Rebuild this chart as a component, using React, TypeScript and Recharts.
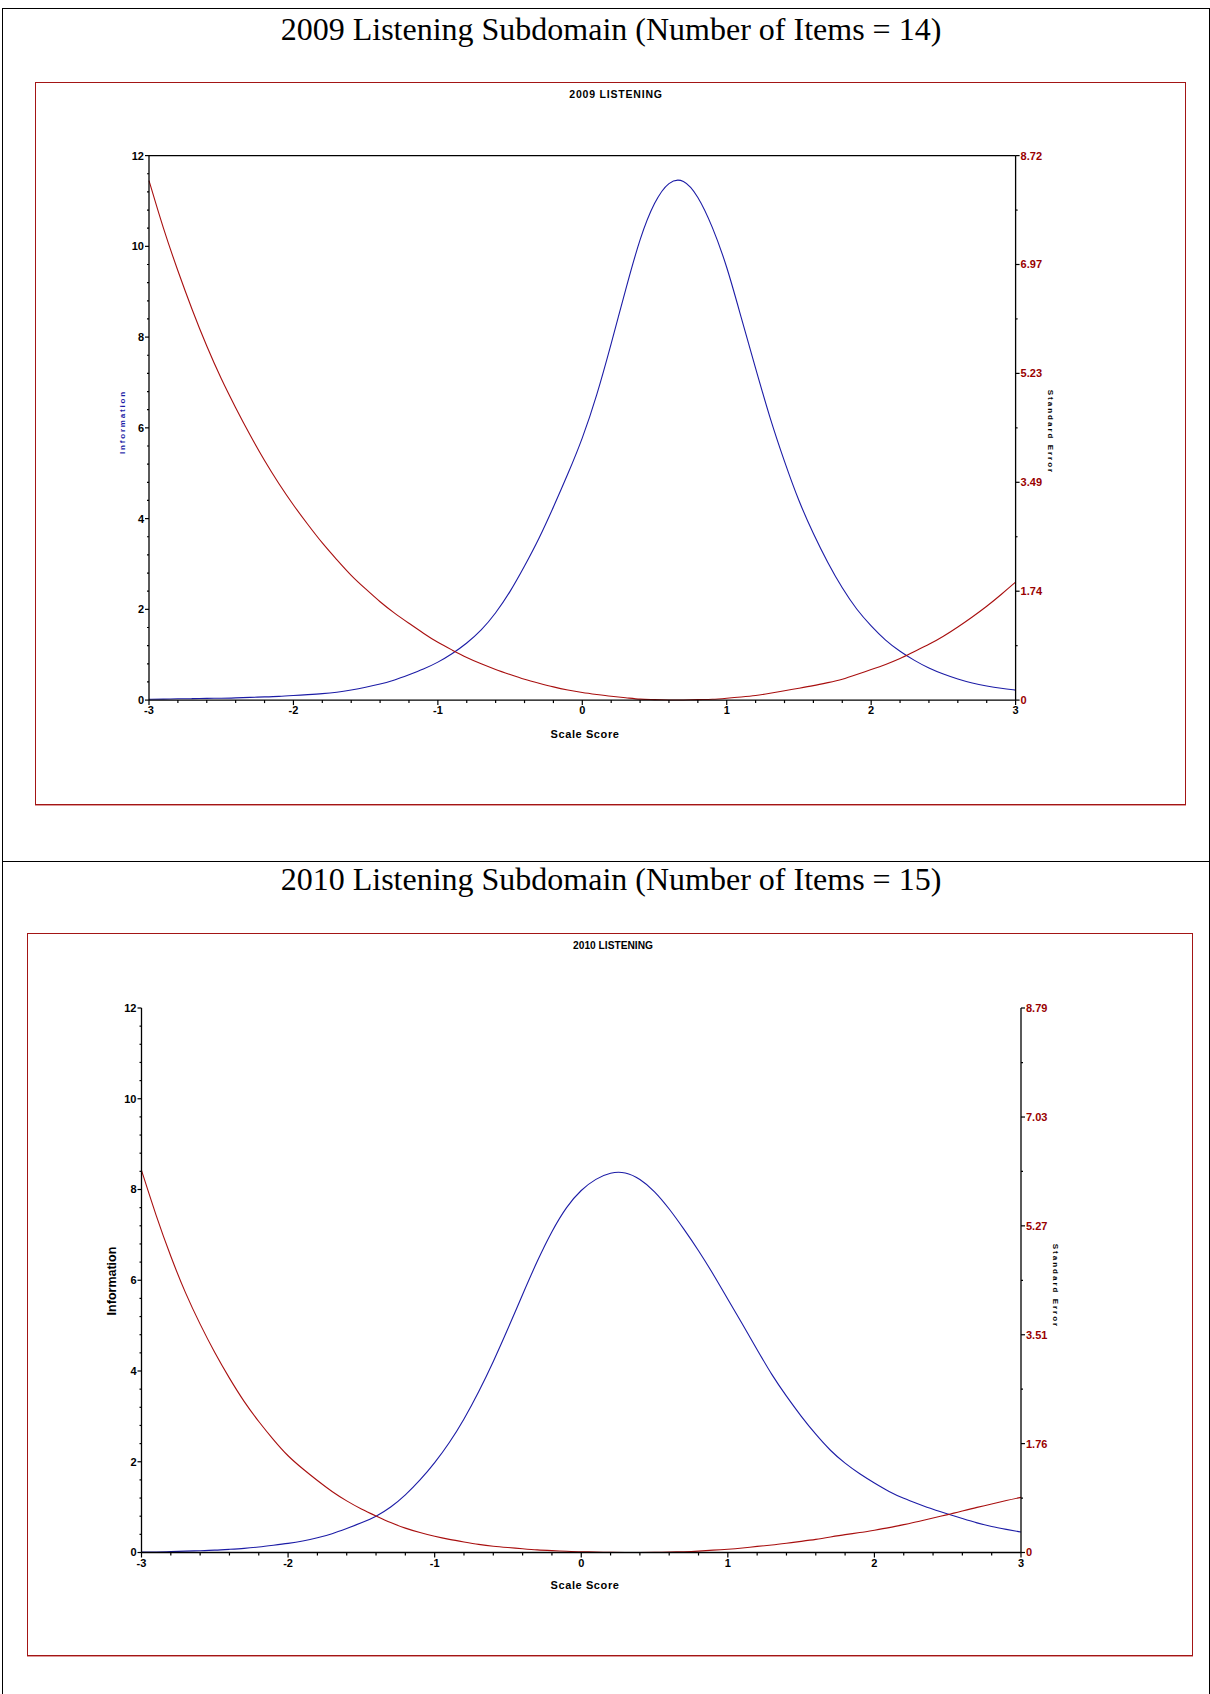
import React from "react";
import { LineChart, Line, XAxis, YAxis, ReferenceLine } from "recharts";

// scale score grid (theta)
const scores = [
  -3, -2.9, -2.8, -2.7, -2.6, -2.5, -2.4, -2.3, -2.2, -2.1,
  -2, -1.9, -1.8, -1.7, -1.6, -1.5, -1.4, -1.3, -1.2, -1.1,
  -1, -0.9, -0.8, -0.7, -0.6, -0.5, -0.4, -0.3, -0.2, -0.1,
  0, 0.1, 0.2, 0.3, 0.4, 0.5, 0.6, 0.7, 0.8, 0.9,
  1, 1.1, 1.2, 1.3, 1.4, 1.5, 1.6, 1.7, 1.8, 1.9,
  2, 2.1, 2.2, 2.3, 2.4, 2.5, 2.6, 2.7, 2.8, 2.9, 3,
];

const info2009 = [
  0.02, 0.02, 0.03, 0.03, 0.04, 0.04, 0.05, 0.06, 0.07, 0.08,
  0.1, 0.12, 0.14, 0.17, 0.22, 0.28, 0.35, 0.44, 0.56, 0.68,
  0.83, 1.02, 1.25, 1.53, 1.91, 2.38, 2.95, 3.55, 4.25, 4.98,
  5.75, 6.7, 7.85, 9.05, 10.2, 11.0, 11.45, 11.5, 11.13, 10.45,
  9.58, 8.43, 7.31, 6.2, 5.25, 4.37, 3.66, 3.02, 2.46, 1.99,
  1.63, 1.31, 1.07, 0.87, 0.7, 0.57, 0.46, 0.37, 0.31, 0.26, 0.22,
];

const se2009 = [
  8.32, 7.54, 6.87, 6.24, 5.66, 5.14, 4.68, 4.24, 3.83, 3.46,
  3.12, 2.81, 2.51, 2.25, 1.99, 1.78, 1.57, 1.39, 1.23, 1.07,
  0.92, 0.8, 0.68, 0.58, 0.49, 0.41, 0.33, 0.27, 0.21, 0.16,
  0.12, 0.09, 0.06, 0.04, 0.01, 0.01, 0, 0, 0.01, 0.01,
  0.03, 0.05, 0.07, 0.11, 0.15, 0.19, 0.23, 0.28, 0.33, 0.41,
  0.49, 0.57, 0.66, 0.78, 0.89, 1.02, 1.17, 1.33, 1.5, 1.69, 1.89,
];

const info2010 = [
  0.01, 0.01, 0.02, 0.03, 0.04, 0.05, 0.07, 0.09, 0.12, 0.16,
  0.2, 0.25, 0.32, 0.41, 0.53, 0.65, 0.79, 0.99, 1.26, 1.59,
  1.97, 2.41, 2.93, 3.53, 4.2, 4.93, 5.69, 6.43, 7.09, 7.63,
  8.0, 8.24, 8.38, 8.39, 8.24, 7.97, 7.58, 7.13, 6.66, 6.14,
  5.58, 5.03, 4.47, 3.91, 3.44, 3.0, 2.6, 2.24, 1.96, 1.73,
  1.53, 1.34, 1.19, 1.07, 0.95, 0.85, 0.75, 0.65, 0.57, 0.51, 0.45,
];

const se2010 = [
  6.17, 5.43, 4.77, 4.18, 3.68, 3.22, 2.81, 2.43, 2.11, 1.82,
  1.55, 1.35, 1.16, 0.98, 0.83, 0.7, 0.59, 0.48, 0.39, 0.32,
  0.26, 0.21, 0.17, 0.13, 0.1, 0.08, 0.06, 0.04, 0.03, 0.02,
  0.01, 0.01, 0, 0, 0, 0, 0.01, 0.01, 0.02, 0.04,
  0.05, 0.07, 0.1, 0.12, 0.15, 0.18, 0.21, 0.25, 0.29, 0.32,
  0.36, 0.4, 0.45, 0.5, 0.56, 0.61, 0.67, 0.73, 0.78, 0.84, 0.89,
];

const xTicks = [
  -3, -2.8, -2.6, -2.4, -2.2, -2, -1.8, -1.6, -1.4, -1.2, -1, -0.8, -0.6, -0.4, -0.2,
  0, 0.2, 0.4, 0.6, 0.8, 1, 1.2, 1.4, 1.6, 1.8, 2, 2.2, 2.4, 2.6, 2.8, 3,
];
const infoTicks = [
  0, 0.4, 0.8, 1.2, 1.6, 2, 2.4, 2.8, 3.2, 3.6, 4, 4.4, 4.8, 5.2, 5.6, 6,
  6.4, 6.8, 7.2, 7.6, 8, 8.4, 8.8, 9.2, 9.6, 10, 10.4, 10.8, 11.2, 11.6, 12,
];
const seTicks2009 = [0, 0.872, 1.744, 2.616, 3.488, 4.36, 5.232, 6.104, 6.976, 7.848, 8.72];
const seLabels2009 = ["0", "1.74", "3.49", "5.23", "6.97", "8.72"];
const seTicks2010 = [0, 0.879, 1.758, 2.637, 3.515, 4.394, 5.273, 6.152, 7.03, 7.909, 8.79];
const seLabels2010 = ["0", "1.76", "3.51", "5.27", "7.03", "8.79"];

const BLUE = "#1c1ca6";
const RED = "#a80f0f";
const DARKRED = "#990000";
const SANS = "'Liberation Sans', Arial, sans-serif";

const rows = (info: number[], se: number[]) =>
  scores.map((x, i) => ({ x, info: info[i], se: se[i] }));

function XTick(props: any) {
  const { x, y, payload } = props;
  const v = payload.value;
  const major = Math.abs(v - Math.round(v)) < 1e-6;
  return (
    <g>
      <line x1={x} y1={y} x2={x} y2={y + (major ? 5 : 3)} stroke="#000" strokeWidth={1.2} />
      {major && (
        <text x={x} y={y + 14} textAnchor="middle" fontSize={11} fontWeight="bold" fontFamily={SANS} fill="#000">
          {String(Math.round(v))}
        </text>
      )}
    </g>
  );
}

function InfoTick(props: any) {
  const { x, y, payload } = props;
  const v = payload.value;
  const major = Math.abs(v - Math.round(v)) < 1e-6 && Math.round(v) % 2 === 0;
  return (
    <g>
      <line x1={major ? x - 4 : x - 2} y1={y} x2={x} y2={y} stroke="#000" strokeWidth={1.2} />
      {major && (
        <text x={x - 5} y={y} dy="0.36em" textAnchor="end" fontSize={11} fontWeight="bold" fontFamily={SANS} fill="#000">
          {String(Math.round(v))}
        </text>
      )}
    </g>
  );
}

function makeSeTick(labels: string[]) {
  return function SeTick(props: any) {
    const { x, y, index } = props;
    const major = index % 2 === 0;
    return (
      <g>
        <line x1={x} y1={y} x2={x + (major ? 4 : 2)} y2={y} stroke="#000" strokeWidth={1.2} />
        {major && (
          <text x={x + 5} y={y} dy="0.36em" textAnchor="start" fontSize={11} fontWeight="bold" fontFamily={SANS} fill={DARKRED}>
            {labels[index / 2]}
          </text>
        )}
      </g>
    );
  };
}

type PanelProps = {
  heading: string;
  headingY: number;
  chartTitle: string;
  titleX: number;
  titleSize: number;
  titleSpacing: number;
  frame: { left: number; top: number; width: number; height: number };
  margin: { top: number; right: number; bottom: number; left: number };
  info: number[];
  se: number[];
  seMax: number;
  seTicks: number[];
  seLabels: string[];
  topLine: boolean;
  infoLabel: { x: number; y: number; size: number; color: string; bold: boolean; spacing: number };
  seLabel: { x: number; y: number };
  scaleLabel: { x: number; y: number };
};

function Panel(p: PanelProps) {
  const SeTick = makeSeTick(p.seLabels);
  return (
    <>
      <div
        style={{
          position: "absolute",
          left: 6,
          width: 1210,
          top: p.headingY - 18,
          textAlign: "center",
          fontFamily: "'Liberation Serif', 'Times New Roman', serif",
          fontSize: 32,
          lineHeight: "36px",
          color: "#000",
        }}
      >
        {p.heading}
      </div>
      <div
        style={{
          position: "absolute",
          left: p.frame.left,
          top: p.frame.top,
          width: p.frame.width,
          height: p.frame.height,
          border: "1px solid #a31515",
          boxShadow: "0 1px 0 #d99",
          boxSizing: "border-box",
        }}
      />
      <div
        style={{
          position: "absolute",
          left: p.titleX,
          top: p.frame.top + 12,
          transform: "translate(-50%, -50%)",
          fontFamily: SANS,
          fontWeight: "bold",
          fontSize: p.titleSize,
          letterSpacing: p.titleSpacing,
          whiteSpace: "nowrap",
        }}
      >
        {p.chartTitle}
      </div>
      <div style={{ position: "absolute", left: 0, top: p.frame.top }}>
        <LineChart width={1210} height={p.frame.height} data={rows(p.info, p.se)} margin={p.margin}>
          <XAxis
            dataKey="x"
            type="number"
            domain={[-3, 3]}
            ticks={xTicks}
            interval={0}
            height={30}
            tickSize={0}
            tickMargin={0}
            tickLine={false}
            tick={<XTick />}
            axisLine={{ stroke: "#000", strokeWidth: 1.3 }}
          />
          <YAxis
            yAxisId="info"
            orientation="left"
            type="number"
            domain={[0, 12]}
            ticks={infoTicks}
            interval={0}
            width={60}
            tickSize={0}
            tickMargin={0}
            tickLine={false}
            tick={<InfoTick />}
            axisLine={{ stroke: "#000", strokeWidth: 1.3 }}
          />
          <YAxis
            yAxisId="se"
            orientation="right"
            type="number"
            domain={[0, p.seMax]}
            ticks={p.seTicks}
            interval={0}
            width={60}
            tickSize={0}
            tickMargin={0}
            tickLine={false}
            tick={<SeTick />}
            axisLine={{ stroke: "#000", strokeWidth: 1.3 }}
          />
          {p.topLine && <ReferenceLine yAxisId="info" y={12} stroke="#000" strokeWidth={1.3} />}
          <Line
            yAxisId="info"
            dataKey="info"
            type="basis"
            stroke={BLUE}
            strokeWidth={1.1}
            dot={false}
            isAnimationActive={false}
          />
          <Line
            yAxisId="se"
            dataKey="se"
            type="basis"
            stroke={RED}
            strokeWidth={1.1}
            dot={false}
            isAnimationActive={false}
          />
        </LineChart>
      </div>
      <div
        style={{
          position: "absolute",
          left: p.infoLabel.x,
          top: p.infoLabel.y,
          transform: "translate(-50%, -50%) rotate(-90deg)",
          fontFamily: SANS,
          fontSize: p.infoLabel.size,
          fontWeight: p.infoLabel.bold ? "bold" : "normal",
          letterSpacing: p.infoLabel.spacing,
          color: p.infoLabel.color,
          whiteSpace: "nowrap",
        }}
      >
        Information
      </div>
      <div
        style={{
          position: "absolute",
          left: p.seLabel.x,
          top: p.seLabel.y,
          transform: "translate(-50%, -50%) rotate(90deg)",
          fontFamily: SANS,
          fontSize: 8,
          fontWeight: "bold",
          letterSpacing: 2,
          color: "#000",
          whiteSpace: "nowrap",
        }}
      >
        Standard Error
      </div>
      <div
        style={{
          position: "absolute",
          left: p.scaleLabel.x,
          top: p.scaleLabel.y,
          transform: "translate(-50%, -50%)",
          fontFamily: SANS,
          fontSize: 11,
          fontWeight: "bold",
          letterSpacing: 0.6,
          whiteSpace: "nowrap",
        }}
      >
        Scale Score
      </div>
    </>
  );
}

export default function App() {
  return (
    <div
      style={{
        position: "absolute",
        left: 0,
        top: 0,
        width: 1210,
        height: 1694,
        overflow: "hidden",
        background: "#fff",
      }}
    >
      <div
        style={{
          position: "absolute",
          left: 2,
          top: 8,
          width: 1206,
          height: 1720,
          borderLeft: "1px solid #000",
          borderTop: "1px solid #000",
          borderRight: "1px solid #000",
        }}
      />
      <div style={{ position: "absolute", left: 2, top: 861, width: 1208, borderTop: "1px solid #000" }} />

      <Panel
        heading="2009 Listening Subdomain (Number of Items = 14)"
        headingY={29}
        chartTitle="2009 LISTENING"
        titleX={616}
        titleSize={10.5}
        titleSpacing={0.8}
        frame={{ left: 35, top: 82, width: 1151, height: 723 }}
        margin={{ top: 73.6, right: 134.4, bottom: 74.9, left: 89 }}
        info={info2009}
        se={se2009}
        seMax={8.72}
        seTicks={seTicks2009}
        seLabels={seLabels2009}
        topLine={true}
        infoLabel={{ x: 122, y: 422, size: 8, color: "#1c1ca6", bold: true, spacing: 1.8 }}
        seLabel={{ x: 1050, y: 432 }}
        scaleLabel={{ x: 585, y: 734 }}
      />
      <Panel
        heading="2010 Listening Subdomain (Number of Items = 15)"
        headingY={879}
        chartTitle="2010 LISTENING"
        titleX={613}
        titleSize={10.2}
        titleSpacing={0}
        frame={{ left: 27, top: 933, width: 1166, height: 723 }}
        margin={{ top: 75, right: 129, bottom: 73.5, left: 81.5 }}
        info={info2010}
        se={se2010}
        seMax={8.79}
        seTicks={seTicks2010}
        seLabels={seLabels2010}
        topLine={false}
        infoLabel={{ x: 112, y: 1281, size: 12.5, color: "#000", bold: true, spacing: 0 }}
        seLabel={{ x: 1055, y: 1286 }}
        scaleLabel={{ x: 585, y: 1585 }}
      />
    </div>
  );
}
